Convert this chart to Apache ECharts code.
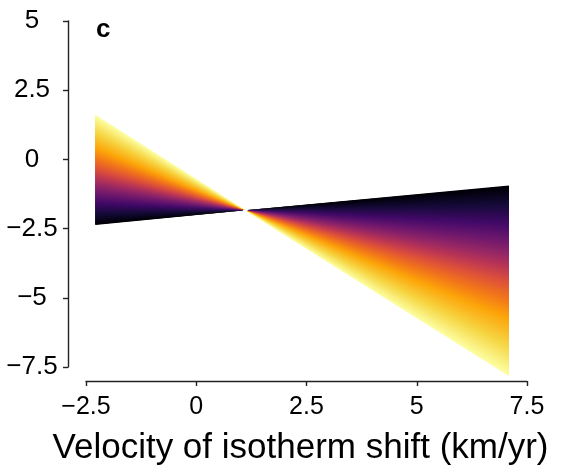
<!DOCTYPE html>
<html>
<head>
<meta charset="utf-8">
<script src="https://cdn.jsdelivr.net/npm/echarts@6/dist/echarts.min.js"></script>
<style>html,body{margin:0;padding:0;background:#fff}#c{width:571px;height:471px}</style>
</head>
<body>
<div id="c"></div>
<script>
// ---- data ----
const xRange = [-2.29, 7.09];          // x extent of the fitted lines
const pivot = [1.11, -1.84];           // common crossing point
const blackLineY = [-2.37, -0.94];     // y at left / right end, darkest line
const yellowLineY = [1.60, -7.82];     // y at left / right end, lightest line
const xTicks = [-2.5, 0, 2.5, 5, 7.5];
const yTicks = [-7.5, -5, -2.5, 0, 2.5, 5];
const panelLabel = 'c';
const xTitle = 'Velocity of isotherm shift (km/yr)';
// inferno colour map stops
const infernoStops = ['#000004','#160b39','#420a68','#6a176e','#932667','#bc3754','#dd513a','#f37819','#fca50a','#f6d746','#fcffa4'];
// position across the fan (0 = dark edge, 1 = light edge) -> colour-map value
const fanPos = [0, 0.2, 0.36, 0.51, 0.70, 1];
const cmapVal = [0, 0.2, 0.4, 0.6, 0.8, 1];

function hex2rgb(h){return [parseInt(h.slice(1,3),16),parseInt(h.slice(3,5),16),parseInt(h.slice(5,7),16)];}
function inferno(v){
  v=Math.max(0,Math.min(1,v));
  const n=infernoStops.length-1, f=v*n, i=Math.min(n-1,Math.floor(f)), t=f-i;
  const a=hex2rgb(infernoStops[i]), b=hex2rgb(infernoStops[i+1]);
  return 'rgb('+a.map((c,k)=>Math.round(c+(b[k]-c)*t)).join(',')+')';
}
function mapPos(p){
  for(let i=0;i<fanPos.length-1;i++){
    if(p<=fanPos[i+1]){const t=(p-fanPos[i])/(fanPos[i+1]-fanPos[i]);return cmapVal[i]+t*(cmapVal[i+1]-cmapVal[i]);}
  }
  return 1;
}
const lerp=(a,b,t)=>a+(b-a)*t;
const fmt=v=>String(v).replace('-','\u2212');

const N = 200;
const chart = echarts.init(document.getElementById('c'), null, {renderer:'canvas'});
chart.setOption({
  animation:false,
  backgroundColor:'#fff',
  grid:{left:86,right:44,top:21,bottom:103},
  xAxis:{type:'value',min:xTicks[0],max:xTicks[xTicks.length-1],interval:2.5,offset:14,
    axisLine:{show:true,onZero:false,lineStyle:{color:'#222',width:1.4}},
    axisTick:{show:true,length:5,lineStyle:{color:'#222',width:1.4}},
    axisLabel:{formatter:fmt,fontSize:25,color:'#000',margin:14,fontFamily:'Liberation Sans'},
    splitLine:{show:false},
    name:xTitle,nameLocation:'middle',nameGap:50,
    nameTextStyle:{fontSize:35,color:'#000',fontFamily:'Liberation Sans',padding:[0,12,0,0]}},
  yAxis:{type:'value',min:yTicks[0],max:yTicks[yTicks.length-1],interval:2.5,offset:18,
    axisLine:{show:true,onZero:false,lineStyle:{color:'#222',width:1.4}},
    axisTick:{show:true,length:5,lineStyle:{color:'#222',width:1.4}},
    axisLabel:{formatter:fmt,fontSize:26,color:'#000',margin:36,align:'center',fontFamily:'Liberation Sans'},
    splitLine:{show:false}},
  graphic:[{type:'text',left:96,top:17,style:{text:panelLabel,font:'bold 26px Liberation Sans',fill:'#000'}}],
  series:[{
    type:'custom',
    data:[[pivot[0],pivot[1]]],
    clip:false,
    renderItem:function(params,api){
      const P=api.coord(pivot);
      const children=[];
      // overlapping wedges (each spans 3 steps) so no seams show between colours
      for(let i=0;i<N;i++){
        const t0=i/N, t1=Math.min(1,(i+3)/N), col=inferno(mapPos((i+0.5)/N));
        const l0=api.coord([xRange[0],lerp(blackLineY[0],yellowLineY[0],t0)]);
        const l1=api.coord([xRange[0],lerp(blackLineY[0],yellowLineY[0],t1)]);
        const r0=api.coord([xRange[1],lerp(blackLineY[1],yellowLineY[1],t0)]);
        const r1=api.coord([xRange[1],lerp(blackLineY[1],yellowLineY[1],t1)]);
        children.push({type:'polygon',shape:{points:[P,l0,l1]},style:{fill:col}});
        children.push({type:'polygon',shape:{points:[P,r0,r1]},style:{fill:col}});
      }
      return {type:'group',children:children};
    }
  }]
});
</script>
</body>
</html>
